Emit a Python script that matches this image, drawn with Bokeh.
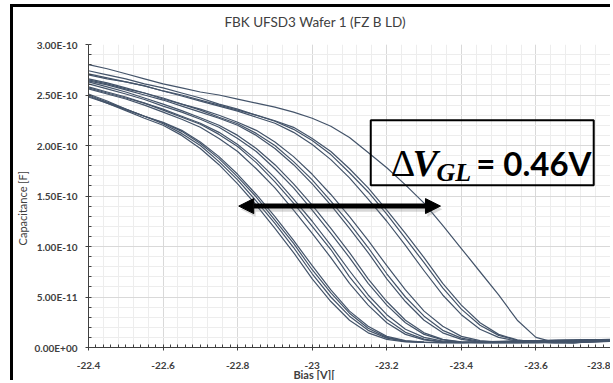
from bokeh.plotting import figure
from bokeh.models import (Range1d, FixedTicker, CustomJSTickFormatter, Label, LinearAxis,
                          BoxAnnotation, Arrow, NormalHead)
from bokeh.embed import file_html
from bokeh.resources import INLINE

chart_title = "FBK UFSD3 Wafer 1 (FZ B LD)"
x_title = "Bias [V]["
y_title = "Capacitance [F]"

# Bias grid (V)
bias_v = [-22.40, -22.45, -22.50, -22.55, -22.60, -22.65, -22.70, -22.75, -22.80,
          -22.85, -22.90, -22.95, -23.00, -23.05, -23.10, -23.15, -23.20, -23.25,
          -23.30, -23.35, -23.40, -23.45, -23.50, -23.55, -23.60, -23.65, -23.70,
          -23.75, -23.80]

# Capacitance of each device, in units of 1e-10 F
cap_01 = [2.49, 2.42, 2.345, 2.27, 2.20, 2.10, 1.97, 1.81, 1.62, 1.41, 1.18, 0.94, 0.68, 0.455, 0.27, 0.145, 0.08, 0.055, 0.05, 0.048, 0.05, 0.055, 0.06, 0.065, 0.068, 0.07, 0.073, 0.076, 0.08]
cap_02 = [2.51, 2.44, 2.36, 2.29, 2.215, 2.12, 2.00, 1.84, 1.66, 1.45, 1.23, 0.99, 0.73, 0.50, 0.31, 0.17, 0.093, 0.06, 0.051, 0.048, 0.049, 0.053, 0.058, 0.063, 0.067, 0.07, 0.073, 0.076, 0.079]
cap_03 = [2.50, 2.43, 2.36, 2.29, 2.225, 2.14, 2.02, 1.87, 1.69, 1.49, 1.26, 1.03, 0.77, 0.54, 0.34, 0.19, 0.10, 0.064, 0.052, 0.049, 0.048, 0.052, 0.057, 0.062, 0.066, 0.07, 0.073, 0.076, 0.079]
cap_04 = [2.48, 2.42, 2.355, 2.29, 2.23, 2.15, 2.035, 1.89, 1.715, 1.515, 1.295, 1.06, 0.81, 0.57, 0.36, 0.21, 0.11, 0.068, 0.053, 0.05, 0.048, 0.051, 0.056, 0.061, 0.066, 0.069, 0.072, 0.076, 0.079]
cap_05 = [2.56, 2.51, 2.46, 2.40, 2.33, 2.26, 2.18, 2.07, 1.94, 1.77, 1.58, 1.36, 1.13, 0.89, 0.635, 0.42, 0.245, 0.13, 0.075, 0.054, 0.049, 0.048, 0.05, 0.055, 0.06, 0.065, 0.069, 0.073, 0.077]
cap_06 = [2.58, 2.53, 2.48, 2.42, 2.35, 2.28, 2.21, 2.11, 1.99, 1.83, 1.64, 1.43, 1.20, 0.97, 0.70, 0.475, 0.28, 0.15, 0.083, 0.056, 0.05, 0.048, 0.049, 0.053, 0.058, 0.063, 0.068, 0.072, 0.076]
cap_07 = [2.57, 2.52, 2.47, 2.42, 2.36, 2.29, 2.22, 2.13, 2.01, 1.86, 1.68, 1.47, 1.25, 1.01, 0.76, 0.52, 0.325, 0.18, 0.10, 0.063, 0.051, 0.048, 0.048, 0.052, 0.057, 0.062, 0.067, 0.071, 0.075]
cap_08 = [2.61, 2.56, 2.51, 2.455, 2.39, 2.33, 2.26, 2.18, 2.07, 1.94, 1.77, 1.58, 1.36, 1.13, 0.89, 0.635, 0.42, 0.245, 0.13, 0.075, 0.054, 0.049, 0.047, 0.05, 0.055, 0.06, 0.065, 0.07, 0.074]
cap_09 = [2.63, 2.58, 2.53, 2.47, 2.41, 2.345, 2.275, 2.20, 2.10, 1.97, 1.81, 1.62, 1.41, 1.18, 0.94, 0.68, 0.455, 0.27, 0.145, 0.08, 0.055, 0.05, 0.047, 0.048, 0.052, 0.057, 0.062, 0.067, 0.072]
cap_10 = [2.64, 2.60, 2.55, 2.50, 2.45, 2.39, 2.33, 2.27, 2.20, 2.10, 1.97, 1.81, 1.62, 1.41, 1.18, 0.94, 0.68, 0.455, 0.27, 0.145, 0.08, 0.055, 0.05, 0.047, 0.049, 0.054, 0.06, 0.066, 0.071]
cap_11 = [2.66, 2.62, 2.57, 2.52, 2.46, 2.41, 2.35, 2.28, 2.215, 2.12, 2.00, 1.84, 1.66, 1.45, 1.23, 0.99, 0.73, 0.50, 0.31, 0.17, 0.093, 0.06, 0.051, 0.047, 0.048, 0.053, 0.059, 0.065, 0.07]
cap_12 = [2.65, 2.61, 2.56, 2.52, 2.47, 2.41, 2.36, 2.30, 2.23, 2.15, 2.035, 1.89, 1.715, 1.515, 1.295, 1.06, 0.81, 0.57, 0.36, 0.21, 0.11, 0.068, 0.053, 0.048, 0.047, 0.051, 0.057, 0.063, 0.069]
cap_13 = [2.71, 2.67, 2.63, 2.59, 2.54, 2.49, 2.44, 2.39, 2.34, 2.28, 2.22, 2.13, 2.01, 1.86, 1.68, 1.47, 1.25, 1.01, 0.76, 0.52, 0.325, 0.18, 0.10, 0.063, 0.051, 0.046, 0.05, 0.057, 0.064]
cap_14 = [2.74, 2.70, 2.66, 2.61, 2.57, 2.52, 2.47, 2.41, 2.36, 2.30, 2.24, 2.16, 2.05, 1.91, 1.73, 1.54, 1.32, 1.08, 0.84, 0.59, 0.38, 0.22, 0.12, 0.07, 0.053, 0.047, 0.048, 0.055, 0.062]
cap_15 = [2.70, 2.66, 2.63, 2.59, 2.54, 2.50, 2.45, 2.40, 2.35, 2.30, 2.245, 2.18, 2.07, 1.94, 1.77, 1.58, 1.36, 1.13, 0.89, 0.635, 0.42, 0.245, 0.13, 0.075, 0.054, 0.048, 0.047, 0.053, 0.06]
cap_16 = [2.80, 2.76, 2.71, 2.66, 2.61, 2.57, 2.53, 2.50, 2.46, 2.42, 2.38, 2.33, 2.27, 2.19, 2.08, 1.93, 1.78, 1.61, 1.43, 1.21, 0.98, 0.75, 0.52, 0.27, 0.10, 0.05, 0.044, 0.06, 0.075]

devices = [cap_01, cap_02, cap_03, cap_04, cap_05, cap_06, cap_07, cap_08,
           cap_09, cap_10, cap_11, cap_12, cap_13, cap_14, cap_15, cap_16]

x_major_ticks = [-22.4, -22.6, -22.8, -23.0, -23.2, -23.4, -23.6, -23.8]
y_major_ticks = [0.0, 5e-11, 1e-10, 1.5e-10, 2e-10, 2.5e-10, 3e-10]

# Annotation: gain-layer depletion voltage spread
dv_label_delta = "\u0394"
dv_label_v = "V"
dv_label_sub = "GL"
dv_label_value = "= 0.46V"

p = figure(width=600, height=376,
           x_range=Range1d(-22.4, -23.8), y_range=Range1d(0, 3e-10),
           output_backend="svg", toolbar_location=None,
           min_border_left=71, min_border_right=3, min_border_top=37,
           min_border_bottom=35)
p.styles = {"margin-left": "10px", "margin-top": "4px",
            "border-left": "3px solid black", "border-top": "3px solid black"}
p.outline_line_color = None
p.background_fill_color = "white"
p.border_fill_color = "white"

# ticks
x_minor = [-22.4 - 0.02 * k for k in range(71)]
x_grid_minor = [-22.4 - 0.04 * k for k in range(36)]
y_minor = [1e-11 * k for k in range(31)]

p.xaxis.ticker = FixedTicker(ticks=x_major_ticks, minor_ticks=x_minor)
p.yaxis.ticker = FixedTicker(ticks=y_major_ticks, minor_ticks=y_minor)
p.xgrid.ticker = FixedTicker(ticks=x_major_ticks, minor_ticks=x_grid_minor)
p.ygrid.ticker = FixedTicker(ticks=y_major_ticks, minor_ticks=y_minor)

p.xaxis.formatter = CustomJSTickFormatter(code="return String(Math.round(tick*10)/10);")
p.yaxis.formatter = CustomJSTickFormatter(code=r"""
const s = tick.toExponential(2).toUpperCase();
return s.replace(/E([+-])(\d)$/, (m, a, b) => 'E' + a + '0' + b);
""")

for ax in (p.xaxis, p.yaxis):
    ax.axis_line_color = "#404040"
    ax.axis_line_width = 1
    ax.major_tick_line_color = "#404040"
    ax.minor_tick_line_color = "#404040"
    ax.major_tick_in = 0
    ax.major_tick_out = 3
    ax.minor_tick_in = 3
    ax.minor_tick_out = 0
    ax.major_label_text_font = "Lato"
    ax.major_label_text_font_style = "bold"
    ax.major_label_text_font_size = "10px"
    ax.major_label_text_color = "#404040"
p.xaxis.major_label_standoff = 11
p.yaxis.major_label_standoff = 8

for g in (p.xgrid, p.ygrid):
    g.grid_line_color = "#D9D9D9"
    g.grid_line_width = 1
    g.minor_grid_line_color = "#EDEDED"
    g.minor_grid_line_width = 1


def title_axis(text, tick, standoff, size, bold, **kw):
    ax = LinearAxis(ticker=FixedTicker(ticks=[tick]),
                    formatter=CustomJSTickFormatter(args=dict(t=text), code="return t;"),
                    axis_line_color=None, major_tick_line_color=None,
                    minor_tick_line_color=None, major_tick_in=0, major_tick_out=0,
                    major_label_standoff=standoff, major_label_text_font="Lato",
                    major_label_text_font_size=size,
                    major_label_text_font_style="bold" if bold else "normal",
                    major_label_text_color="#404040", **kw)
    return ax


# chart title and axis titles (drawn as single-label axes)
p.add_layout(title_axis(chart_title, -23.008, 15, "13.5px", False), "above")
p.add_layout(title_axis(x_title, -23.005, -4, "11px", True), "below")
p.add_layout(title_axis(y_title, 1.38e-10, 2, "11px", False,
                        major_label_orientation="vertical"), "left")

# curves
for cap in devices:
    p.line(bias_v, [c * 1e-10 for c in cap], line_color="#44546A", line_width=1.2,
           line_join="round")

# annotation box
p.add_layout(BoxAnnotation(left=-23.157, right=-23.755, bottom=1.607e-10, top=2.249e-10,
                           fill_alpha=0, line_color="black", line_alpha=1, line_width=2))

# arrow shadow + arrow
p.add_layout(Arrow(x_start=-22.808, y_start=1.37e-10, x_end=-23.349, y_end=1.37e-10,
                   line_width=5, line_color="#7f7f7f", line_alpha=0.3,
                   start=NormalHead(size=15, fill_color="#7f7f7f", fill_alpha=0.3, line_alpha=0),
                   end=NormalHead(size=15, fill_color="#7f7f7f", fill_alpha=0.3, line_alpha=0)))
p.add_layout(Arrow(x_start=-22.803, y_start=1.40e-10, x_end=-23.344, y_end=1.40e-10,
                   line_width=5, line_color="black",
                   start=NormalHead(size=15, fill_color="black", line_color="black", line_width=1),
                   end=NormalHead(size=15, fill_color="black", line_color="black", line_width=1)))

# annotation text
p.add_layout(Label(x=-23.2107, y=1.824e-10, text=dv_label_delta, text_font="Liberation Serif",
                   text_font_size="38px", text_color="black", text_baseline="alphabetic"))
p.add_layout(Label(x=-23.269, y=1.824e-10, text=dv_label_v, text_font="Liberation Serif",
                   text_font_style="bold italic", text_font_size="38px", text_color="black",
                   text_baseline="alphabetic"))
p.add_layout(Label(x=-23.333, y=1.736e-10, text=dv_label_sub, text_font="Liberation Serif",
                   text_font_style="bold italic", text_font_size="26px", text_color="black",
                   text_baseline="alphabetic"))
p.add_layout(Label(x=-23.749, y=1.824e-10, text=dv_label_value, text_font="Lato",
                   text_font_style="bold", text_font_size="33px", text_color="black",
                   text_align="right", text_baseline="alphabetic"))

open("out.html", "w").write(file_html(p, INLINE))
